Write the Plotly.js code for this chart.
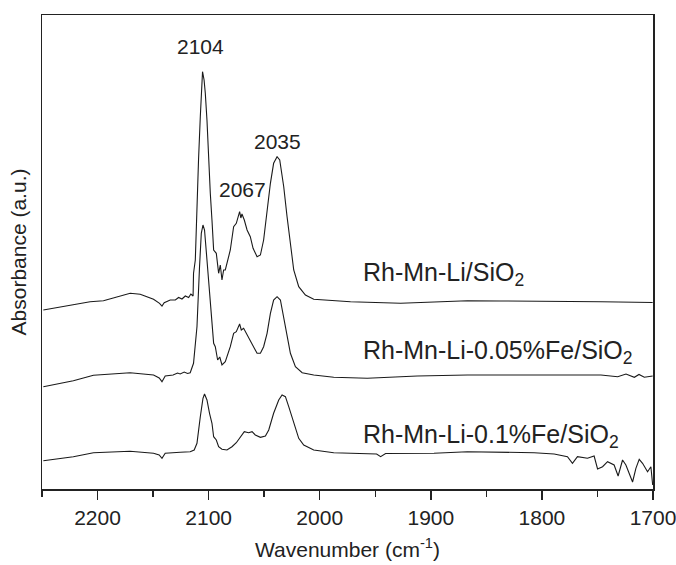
<!DOCTYPE html>
<html>
<head>
<meta charset="utf-8">
<script src="https://cdn.plot.ly/plotly-3.0.1.min.js"></script>
<style>html,body{margin:0;padding:0;background:#fff}#chart{width:676px;height:565px}</style>
</head>
<body>
<div id="chart"></div>
<script>
// Wavenumber (cm-1) and stacked absorbance (a.u.)
var wnTop = [2248.8,2221.8,2206.7,2194.7,2170.6,2161.6,2149.6,2144.2,2142,2140,2134.6,2130,2127,2124,2121,2118,2116,2114,2113.6,2112,2110.5,2109.1,2107.5,2106,2105.5,2104.1,2103,2101.5,2100,2098.5,2097,2095.5,2093.1,2091,2089.5,2088,2086.5,2085,2080.5,2077.5,2075.1,2072.1,2071,2070,2067.9,2065.4,2062.5,2060,2056.4,2053.4,2050.5,2047.4,2044.4,2041.5,2038.4,2036,2032.4,2029.4,2026.4,2023.4,2018.9,2012.9,2005.4,1990.3,1972.3,1927.2,1867,1837.1,1791.9,1746.9,1700.3];
var absTop = [179,184,187.3,188.3,195.7,194.7,189.7,185.7,183,186.3,189,189,191.5,190,193,191.5,195,193,215.7,229,285.7,329,372.3,415.7,417.3,409,395.7,369,329,295.7,269,239,235.7,215.7,224,209,219,219,239,262.3,265.7,277.3,271,275,269,259,252.3,240.7,232.3,234,249,279,305.7,325.7,332.3,329,302.3,272.3,242.3,219,202.3,194,189.7,188.3,187.3,185.7,188.3,188,188,187.3,186.5];

var wnMid = [2248.8,2221.8,2203.7,2170.7,2149.6,2144.5,2142,2139.1,2132,2128,2125.6,2122,2119,2116.6,2113.6,2110.5,2108.2,2106.6,2105.1,2103.7,2101.5,2098.5,2095.5,2094,2091.9,2090,2088,2085,2080.5,2077.5,2075.1,2072.1,2070.6,2068.5,2065.4,2062.5,2060,2056.4,2053.4,2050.5,2047.4,2044.4,2041.5,2038.4,2035.4,2032.4,2029.4,2026.4,2021.9,2015.8,2005.4,1987.4,1957.2,1912.2,1867.1,1807,1746.9,1731.8,1724.3,1716.8,1712.6,1707.8,1700.3];
var absMid = [102.3,108.3,113.7,116.3,114,111,107.3,113,114,116,115,117,115.5,116.3,125.7,162.3,222.3,255.7,264,259,229,182.3,145.7,142.3,129,132,124,127.3,142.3,155.7,157.3,165,159,160.7,154,149,142.3,135.7,135.7,142.3,155.7,175.7,189,192.3,189,172.3,152.3,135.7,122.3,116.3,114,111.7,110.7,113,114,114,114,112.3,115,111.7,114.5,111.7,113];

var wnBot = [2248.8,2221.8,2203.7,2170.7,2149.6,2144.5,2142,2139.1,2125.6,2116.6,2113,2110.5,2107.5,2105.1,2103.7,2101.5,2099.2,2097,2095.5,2093.1,2091,2088,2083.5,2079,2075.1,2071.5,2067.9,2064,2060.9,2058,2053.4,2048.9,2045.9,2041.5,2036.9,2033.9,2030.9,2027.9,2023.4,2018.9,2014.4,2005.4,1987.4,1957.2,1948.8,1945.2,1940.7,1897.2,1867.1,1807,1789,1777,1772.5,1768,1759,1753,1749.9,1745.4,1740.9,1735,1731.4,1727.4,1724.4,1718.4,1715.4,1712.4,1709.4,1704.9,1701.9,1700.3];
var absBot = [28.3,32.3,36.3,37.7,35.7,34,30.7,35.7,36.7,37.3,39,45.7,72.3,90.7,95,89,75.7,65.7,52.3,49,42.3,39.7,39,42.3,46.3,52.3,57.3,56.3,57.3,54,51.7,53,59,75.7,89,94,92.3,82.3,65.7,50.7,44,39,36.3,35.7,35,32.3,35.5,35.7,37.3,36.3,35,32.3,25.7,32.3,30.7,33,20,22.3,27.3,24,13,29,24,7,20.7,29.7,25.7,17.3,22.3,4];

var peakPos = [2107, 2069.7, 2038.1];
var peakY = [442.5, 299.5, 347.3];
var peakText = ['2104', '2067', '2035'];

var seriesNames = ['Rh-Mn-Li/SiO<sub>2</sub>', 'Rh-Mn-Li-0.05%Fe/SiO<sub>2</sub>', 'Rh-Mn-Li-0.1%Fe/SiO<sub>2</sub>'];
var labelY = [215, 137, 53];
var labelX = 1963.3;

var xTicks = [2200, 2100, 2000, 1900, 1800, 1700];
var xMinorTicks = [2250, 2150, 2050, 1950, 1850, 1750];

var lineStyle = {color: '#1a1a1a', width: 1.1};
var traces = [
  {x: wnTop, y: absTop, name: seriesNames[0]},
  {x: wnMid, y: absMid, name: seriesNames[1]},
  {x: wnBot, y: absBot, name: seriesNames[2]}
].map(function (t) {
  return Object.assign(t, {type: 'scatter', mode: 'lines', line: lineStyle, hoverinfo: 'skip'});
});

var annotations = [];
peakText.forEach(function (t, i) {
  annotations.push({x: peakPos[i], y: peakY[i], xref: 'x', yref: 'y', text: t, showarrow: false,
    xanchor: 'center', yanchor: 'middle', font: {size: 21, color: '#222'}});
});
seriesNames.forEach(function (t, i) {
  annotations.push({x: labelX, y: labelY[i], xref: 'x', yref: 'y', text: t, showarrow: false,
    xanchor: 'left', yanchor: 'middle', font: {size: 25, color: '#222'}});
});

var layout = {
  width: 676, height: 565,
  margin: {l: 42, r: 23, t: 15, b: 76},
  paper_bgcolor: '#fff', plot_bgcolor: '#fff',
  showlegend: false,
  font: {family: 'Liberation Sans, Arial, sans-serif', color: '#222'},
  xaxis: {
    range: [2250, 1700], autorange: false,
    tickvals: xTicks, ticktext: xTicks.map(String),
    ticklabeloverflow: 'allow',
    ticks: 'outside', ticklen: 9, tickwidth: 1.5, tickcolor: '#222',
    minor: {tickvals: xMinorTicks, ticks: 'outside', ticklen: 6, tickwidth: 1.5, tickcolor: '#222', showgrid: false},
    showline: true, linecolor: '#222', linewidth: 1.5, mirror: true,
    showgrid: false, zeroline: false,
    tickfont: {size: 21, color: '#222'},
    title: {text: 'Wavenumber (cm<sup>-1</sup>)', font: {size: 21, color: '#222'}, standoff: 14}
  },
  yaxis: {
    range: [0, 474], autorange: false,
    showticklabels: false, ticks: '',
    showline: true, linecolor: '#222', linewidth: 1.5, mirror: true,
    showgrid: false, zeroline: false,
    title: {text: 'Absorbance (a.u.)', font: {size: 21, color: '#222'}, standoff: 8}
  },
  annotations: annotations
};

Plotly.newPlot('chart', traces, layout, {staticPlot: true, displayModeBar: false});
</script>
</body>
</html>
